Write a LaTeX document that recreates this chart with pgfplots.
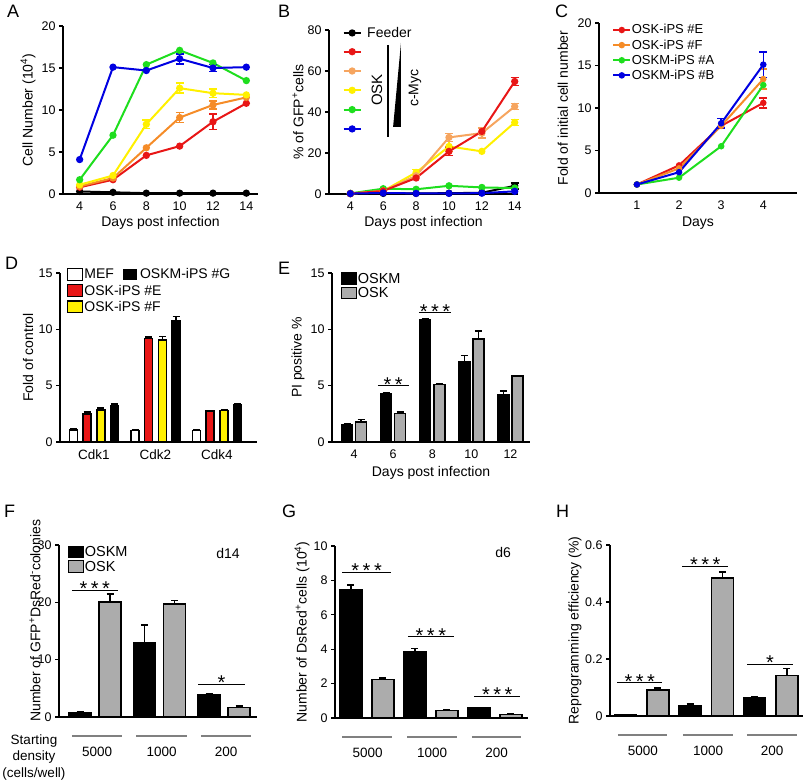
\documentclass[border=0pt]{standalone}
\usepackage{pgfplots}
\pgfplotsset{compat=1.18}
\usepackage{fontspec}
\setmainfont{Liberation Sans}
\definecolor{cred}{RGB}{232,22,22}
\definecolor{corA}{RGB}{245,140,40}
\definecolor{corB}{RGB}{246,165,95}
\definecolor{cyel}{RGB}{255,240,0}
\definecolor{cgrn}{RGB}{30,222,30}
\definecolor{cblu}{RGB}{0,0,225}
\definecolor{cgry}{RGB}{172,172,172}
\definecolor{cline}{RGB}{128,128,128}
\pgfplotsset{
 base/.style={scale only axis, anchor=south west, clip=false,
   axis x line*=bottom, axis y line*=left,
   axis line style={line width=1.5pt,-},
   every tick/.style={line width=1.3pt, black},
   tick align=outside, major tick length=4pt,
   ytick pos=left, xtick pos=bottom,
   x tick style={draw=none},
   /pgf/number format/assume math mode=true,
   tick label style={font=\fontsize{12.5}{12.5}\selectfont},
   label style={font=\fontsize{14}{14}\selectfont},
   xlabel style={anchor=center}, ylabel style={anchor=center},
   legend cell align=left, ymin=0,
 },
 lin/.style={line width=2pt, mark=*, mark size=2.6pt, mark options={solid}},
 eb/.style={forget plot, mark=none, draw=none, error bars/y dir=both, error bars/y explicit,
   error bars/error mark options={rotate=90, mark size=4pt, line width=1.6pt, draw=#1, solid},
   error bars/error bar style={line width=1.6pt, draw=#1, solid}},
 bar/.style={ybar, bar width=#1, bar shift=0pt, draw=black, line width=1.5pt, forget plot,
   error bars/y dir=plus, error bars/y explicit,
   error bars/error mark options={rotate=90, mark size=3.5pt, line width=1.6pt, draw=black},
   error bars/error bar style={line width=1.6pt, draw=black}},
 barleg/.style={legend image code/.code={\draw[##1, line width=1.2pt] (0pt,-5.5pt) rectangle (15pt,6pt);}},
}
\newcommand{\threestar}{*\hspace{3.5pt}*\hspace{3.5pt}*}
\tikzset{stars/.style={anchor=base, font=\fontsize{20}{20}\selectfont, yshift=-5.5pt},
         sig/.style={line width=1.2pt},
         letter/.style={anchor=north west, inner sep=0pt, font=\fontsize{18}{18}\selectfont}}
\begin{document}
\begin{tikzpicture}
\useasboundingbox (0pt,0pt) rectangle (805pt,-783pt);
% ---------------- A
\node[letter] at (7pt,-5pt) {A};
\begin{axis}[base, at={(63pt,-194pt)}, width=195pt, height=168pt,
  xmin=3, xmax=14.7, ymax=20, xtick={4,6,8,10,12,14}, ytick={0,5,10,15,20},
  xlabel={Days post infection}, ylabel={Cell Number (10\textsuperscript{4})},
  xlabel style={at={(axis description cs:0.5,-0.173)}},
  ylabel style={at={(axis description cs:-0.179,0.5)}}]
\addplot[lin, black] coordinates {(4,0.3)(6,0.2)(8,0.1)(10,0.1)(12,0.1)(14,0.1)};
\addplot[lin, cred] coordinates {(4,0.8)(6,1.7)(8,4.6)(10,5.7)(12,8.6)(14,10.8)};
\addplot[eb=cred] coordinates {(12,8.6) +- (0,0.9)};
\addplot[lin, corA] coordinates {(4,0.9)(6,1.9)(8,5.5)(10,9.1)(12,10.6)(14,11.5)};
\addplot[eb=corA] coordinates {(10,9.1) +- (0,0.6) (12,10.6) +- (0,0.5)};
\addplot[lin, cyel] coordinates {(4,1.1)(6,2.2)(8,8.3)(10,12.6)(12,12.0)(14,11.8)};
\addplot[eb=cyel] coordinates {(8,8.3) +- (0,0.5) (10,12.6) +- (0,0.6) (12,12.0) +- (0,0.5)};
\addplot[lin, cgrn] coordinates {(4,1.7)(6,7.0)(8,15.4)(10,17.1)(12,15.6)(14,13.5)};
\addplot[lin, cblu] coordinates {(4,4.1)(6,15.1)(8,14.7)(10,16.1)(12,15.0)(14,15.1)};
\addplot[eb=cblu] coordinates {(10,16.1) +- (0,0.6) (12,15.0) +- (0,0.4)};
\end{axis}
% ---------------- B
\node[letter] at (278pt,-5pt) {B};
\begin{axis}[base, at={(329pt,-194pt)}, width=189pt, height=164pt,
  xmin=2.7, xmax=14.2, ymax=80, xtick={4,6,8,10,12,14}, ytick={0,20,40,60,80},
  xlabel={Days post infection}, ylabel={\% of GFP\textsuperscript{+}cells},
  xlabel style={at={(axis description cs:0.5,-0.177)}},
  ylabel style={at={(axis description cs:-0.164,0.5)}},
  legend style={draw=none, fill=none, inner sep=0pt, font=\fontsize{14}{16}\selectfont,
    nodes={inner sep=1.5pt}, row sep=3.6pt, /tikz/every odd column/.append style={column sep=4pt},
    at={(axis description cs:0.071,1.028)}, anchor=north west}]
\addlegendimage{lin, black}\addlegendentry{Feeder}
\addlegendimage{lin, cred}\addlegendentry{\strut}
\addlegendimage{lin, corB}\addlegendentry{\strut}
\addlegendimage{lin, cyel}\addlegendentry{\strut}
\addlegendimage{lin, cgrn}\addlegendentry{\strut}
\addlegendimage{lin, cblu}\addlegendentry{\strut}
\addplot[lin, black, forget plot] coordinates {(4,0.2)(6,0.3)(8,0.3)(10,0.4)(12,0.6)(14,4.0)};
\addplot[eb=black] coordinates {(14,4.0) +- (0,1.5)};
\addplot[lin, cgrn, forget plot] coordinates {(4,0.3)(6,2.6)(8,2.3)(10,4.0)(12,3.2)(14,2.9)};
\addplot[lin, cyel, forget plot] coordinates {(4,0.2)(6,1.5)(8,10.5)(10,23.2)(12,20.8)(14,34.9)};
\addplot[eb=cyel] coordinates {(8,10.5) +- (0,1.5) (10,23.2) +- (0,2.5) (14,34.9) +- (0,1.5)};
\addplot[lin, corB, forget plot] coordinates {(4,0.2)(6,1.5)(8,8.9)(10,27.6)(12,29.7)(14,42.7)};
\addplot[eb=corB] coordinates {(10,27.6) +- (0,2) (12,29.7) +- (0,2.5) (14,42.7) +- (0,1.5)};
\addplot[lin, cred, forget plot] coordinates {(4,0.2)(6,1.5)(8,7.8)(10,20.8)(12,30.5)(14,54.9)};
\addplot[eb=cred] coordinates {(10,20.8) +- (0,2) (14,54.9) +- (0,2)};
\addplot[lin, cblu, forget plot] coordinates {(4,0.2)(6,0.5)(8,0.3)(10,0.3)(12,0.4)(14,1.3)};
\draw[line width=1.6pt] (axis cs:6.29,72.7) -- (axis cs:6.29,27.8);
\fill (axis cs:7.08,73.7) -- (axis cs:6.6,32.7) -- (axis cs:7.08,32.7) -- cycle;
\node[rotate=90, font=\fontsize{15}{15}\selectfont] at (axis cs:5.62,50.7) {OSK};
\node[rotate=90, font=\fontsize{14}{14}\selectfont] at (axis cs:7.93,51.7) {c-Myc};
\end{axis}
% ---------------- C
\node[letter] at (555pt,-5pt) {C};
\begin{axis}[base, at={(599pt,-193pt)}, width=198pt, height=170pt,
  xmin=0.1, xmax=4.8, ymax=20, xtick={1,2,3,4}, ytick={0,5,10,15,20},
  xlabel={Days}, ylabel={Fold of initial cell number},
  xlabel style={at={(axis description cs:0.5,-0.176)}},
  ylabel style={at={(axis description cs:-0.182,0.5)}},
  legend style={draw=none, fill=none, inner sep=0pt, font=\fontsize{13}{13.7}\selectfont,
    nodes={inner sep=0.5pt}, row sep=3.2pt, at={(axis description cs:0.066,0.995)}, anchor=north west}]
\addlegendimage{lin, cred, mark size=2.2pt}\addlegendentry{OSK-iPS \#E}
\addlegendimage{lin, corA, mark size=2.2pt}\addlegendentry{OSK-iPS \#F}
\addlegendimage{lin, cgrn, mark size=2.2pt}\addlegendentry{OSKM-iPS \#A}
\addlegendimage{lin, cblu, mark size=2.2pt}\addlegendentry{OSKM-iPS \#B}
\addplot[lin, cred, mark size=2.2pt, forget plot] coordinates {(1,1.0)(2,3.25)(3,7.9)(4,10.6)};
\addplot[eb=cred] coordinates {(4,10.6) +- (0,0.6)};
\addplot[lin, corA, mark size=2.2pt, forget plot] coordinates {(1,1.0)(2,2.9)(3,7.9)(4,13.4)};
\addplot[eb=corA] coordinates {(4,13.4) +- (0,1.2)};
\addplot[lin, cgrn, mark size=2.2pt, forget plot] coordinates {(1,1.0)(2,1.8)(3,5.5)(4,12.7)};
\addplot[lin, cblu, mark size=2.2pt, forget plot] coordinates {(1,1.0)(2,2.45)(3,8.2)(4,15.1)};
\addplot[eb=cblu] coordinates {(3,8.2) +- (0,0.55) (4,15.1) +- (0,1.5)};
\end{axis}
% ---------------- D
\node[letter] at (5pt,-257pt) {D};
\begin{axis}[base, at={(60pt,-442pt)}, width=197pt, height=169pt,
  xmin=0.45, xmax=3.65, ymax=15, xtick={1,2,3}, xticklabels={Cdk1,Cdk2,Cdk4}, ytick={0,5,10,15},
  xticklabel style={font=\fontsize{13.5}{14}\selectfont},
  ylabel={Fold of control},
  ylabel style={at={(axis description cs:-0.162,0.5)}},
  legend style={draw=none, fill=none, inner sep=0pt, font=\fontsize{14}{16}\selectfont,
    nodes={inner sep=1pt}, row sep=2.5pt,
    at={(axis description cs:0.036,1.032)}, anchor=north west}]
\addlegendimage{barleg, fill=white}\addlegendentry{MEF\hspace{9pt}\rule[-1.5pt]{14pt}{11.5pt}\hspace{3pt}OSKM-iPS \#G}
\addlegendimage{barleg, fill=cred}\addlegendentry{OSK-iPS \#E}
\addlegendimage{barleg, fill=cyel}\addlegendentry{OSK-iPS \#F}
\addplot[bar=8pt, fill=white] coordinates {(0.67,1.05) +- (0,0.1) (1.67,1.0) +- (0,0.05) (2.67,1.0) +- (0,0.05)};
\addplot[bar=8pt, fill=cred] coordinates {(0.89,2.5) +- (0,0.15) (1.89,9.2) +- (0,0.1) (2.89,2.75) +- (0,0.05)};
\addplot[bar=8pt, fill=cyel] coordinates {(1.115,2.85) +- (0,0.15) (2.115,9.05) +- (0,0.3) (3.115,2.8) +- (0,0.05)};
\addplot[bar=8pt, fill=black] coordinates {(1.335,3.2) +- (0,0.15) (2.335,10.75) +- (0,0.4) (3.335,3.3) +- (0,0.05)};
\end{axis}
% ---------------- E
\node[letter] at (278pt,-262pt) {E};
\begin{axis}[base, at={(332pt,-442pt)}, width=198pt, height=169pt,
  xmin=2.87, xmax=13.0, ymax=15, xtick={4,6,8,10,12}, ytick={0,5,10,15},
  xlabel={Days post infection}, ylabel={PI positive \%},
  xlabel style={at={(axis description cs:0.5,-0.183)}},
  ylabel style={at={(axis description cs:-0.172,0.5)}},
  legend style={draw=none, fill=none, inner sep=0pt, font=\fontsize{14.5}{15.5}\selectfont,
    nodes={inner sep=0.5pt}, row sep=1.5pt, at={(axis description cs:0.045,1.005)}, anchor=north west}]
\addlegendimage{barleg, fill=black}\addlegendentry{OSKM}
\addlegendimage{barleg, fill=cgry}\addlegendentry{OSK}
\addplot[bar=11pt, fill=black] coordinates {(3.64,1.55) +- (0,0.03) (5.64,4.27) +- (0,0.1) (7.64,10.85) +- (0,0.1) (9.64,7.08) +- (0,0.6) (11.64,4.2) +- (0,0.35)};
\addplot[bar=11pt, fill=cgry] coordinates {(4.36,1.78) +- (0,0.2) (6.36,2.52) +- (0,0.15) (8.36,5.1) +- (0,0.1) (10.36,9.16) +- (0,0.7) (12.36,5.84) +- (0,0.05)};
\draw[sig] (axis cs:5.22,5.0) -- (axis cs:6.81,5.0);
\node[stars] at (axis cs:6.0,5.0) {*\hspace{3.5pt}*};
\draw[sig] (axis cs:7.32,11.47) -- (axis cs:8.96,11.47);
\node[stars] at (axis cs:8.14,11.47) {\threestar};
\end{axis}
% ---------------- F
\node[letter] at (4pt,-505pt) {F};
\begin{axis}[base, at={(59pt,-717pt)}, width=198pt, height=172pt,
  xmin=0.44, xmax=3.51, ymax=30, xtick={1.03,2.03,3.03}, xticklabels={5000,1000,200}, ytick={0,10,20,30},
  xticklabel style={yshift=-23pt, font=\fontsize{13.5}{14}\selectfont},
  ylabel={Number of GFP\textsuperscript{+}DsRed\textsuperscript{-}colonies},
  ylabel style={at={(axis description cs:-0.121,0.56)}},
  legend style={draw=none, fill=none, inner sep=0pt, font=\fontsize{14.5}{15.5}\selectfont,
    nodes={inner sep=0.5pt}, row sep=1.5pt, at={(axis description cs:0.045,0.997)}, anchor=north west}]
\addlegendimage{barleg, fill=black}\addlegendentry{OSKM}
\addlegendimage{barleg, fill=cgry}\addlegendentry{OSK}
\addplot[bar=22pt, fill=black] coordinates {(0.767,0.75) +- (0,0.1) (1.767,12.9) +- (0,3.2) (2.767,3.8) +- (0,0.3)};
\addplot[bar=22pt, fill=cgry] coordinates {(1.233,20.1) +- (0,1.4) (2.233,19.7) +- (0,0.6) (3.233,1.7) +- (0,0.2)};
\draw[sig] (axis cs:0.64,22.1) -- (axis cs:1.35,22.1);
\node[stars] at (axis cs:0.995,22.1) {\threestar};
\draw[sig] (axis cs:2.6,5.7) -- (axis cs:3.32,5.7);
\node[stars] at (axis cs:2.96,5.7) {*};
\node[font=\fontsize{14}{14}\selectfont] at (axis cs:3.06,28.6) {d14};
\draw[cline, line width=1.2pt] ([yshift=-19pt]axis cs:0.64,0) -- ([yshift=-19pt]axis cs:1.42,0);
\draw[cline, line width=1.2pt] ([yshift=-19pt]axis cs:1.64,0) -- ([yshift=-19pt]axis cs:2.42,0);
\draw[cline, line width=1.2pt] ([yshift=-19pt]axis cs:2.64,0) -- ([yshift=-19pt]axis cs:3.42,0);
\end{axis}
\node[align=center, font=\fontsize{13.5}{16.5}\selectfont] at (34pt,-757pt) {Starting\\density\\(cells/well)};
% ---------------- G
\node[letter] at (282pt,-505pt) {G};
\begin{axis}[base, at={(335pt,-718pt)}, width=193pt, height=172pt,
  xmin=0.5, xmax=3.52, ymax=10, xtick={1.01,2.02,3.03}, xticklabels={5000,1000,200}, ytick={0,2,4,6,8,10},
  xticklabel style={yshift=-23pt, font=\fontsize{13.5}{14}\selectfont},
  ylabel={Number of DsRed\textsuperscript{+}cells (10\textsuperscript{4})},
  ylabel style={at={(axis description cs:-0.171,0.5)}}]
\addplot[bar=22pt, fill=black] coordinates {(0.75,7.45) +- (0,0.3) (1.75,3.85) +- (0,0.18) (2.75,0.6) +- (0,0.02)};
\addplot[bar=22pt, fill=cgry] coordinates {(1.25,2.25) +- (0,0.06) (2.25,0.43) +- (0,0.02) (3.25,0.21) +- (0,0.06)};
\draw[sig] (axis cs:0.61,8.47) -- (axis cs:1.38,8.47);
\node[stars] at (axis cs:0.995,8.47) {\threestar};
\draw[sig] (axis cs:1.64,4.72) -- (axis cs:2.36,4.72);
\node[stars] at (axis cs:2.0,4.72) {\threestar};
\draw[sig] (axis cs:2.68,1.26) -- (axis cs:3.4,1.26);
\node[stars] at (axis cs:3.04,1.26) {\threestar};
\node[font=\fontsize{14}{14}\selectfont] at (axis cs:3.13,9.65) {d6};
\draw[cline, line width=1.2pt] ([yshift=-19pt]axis cs:0.61,0) -- ([yshift=-19pt]axis cs:1.39,0);
\draw[cline, line width=1.2pt] ([yshift=-19pt]axis cs:1.63,0) -- ([yshift=-19pt]axis cs:2.41,0);
\draw[cline, line width=1.2pt] ([yshift=-19pt]axis cs:2.64,0) -- ([yshift=-19pt]axis cs:3.41,0);
\end{axis}
% ---------------- H
\node[letter] at (556pt,-505pt) {H};
\begin{axis}[base, at={(610pt,-716pt)}, width=193pt, height=171pt,
  xmin=0.51, xmax=3.5, ymax=0.6, xtick={1.02,2.03,3.02}, xticklabels={5000,1000,200}, ytick={0,0.2,0.4,0.6},
  xticklabel style={yshift=-23pt, font=\fontsize{13.5}{14}\selectfont},
  ylabel={Reprogramming efficiency (\%)},
  ylabel style={at={(axis description cs:-0.181,0.5)}}]
\addplot[bar=22pt, fill=black] coordinates {(0.75,0.004) +- (0,0.0005) (1.75,0.037) +- (0,0.006) (2.75,0.064) +- (0,0.004)};
\addplot[bar=22pt, fill=cgry] coordinates {(1.25,0.092) +- (0,0.006) (2.25,0.485) +- (0,0.02) (3.25,0.142) +- (0,0.025)};
\draw[sig] (axis cs:0.62,0.117) -- (axis cs:1.32,0.117);
\node[stars] at (axis cs:0.97,0.117) {\threestar};
\draw[sig] (axis cs:1.63,0.526) -- (axis cs:2.34,0.526);
\node[stars] at (axis cs:1.985,0.526) {\threestar};
\draw[sig] (axis cs:2.64,0.182) -- (axis cs:3.34,0.182);
\node[stars] at (axis cs:2.99,0.182) {*};
\draw[cline, line width=1.2pt] ([yshift=-19pt]axis cs:0.63,0) -- ([yshift=-19pt]axis cs:1.40,0);
\draw[cline, line width=1.2pt] ([yshift=-19pt]axis cs:1.64,0) -- ([yshift=-19pt]axis cs:2.42,0);
\draw[cline, line width=1.2pt] ([yshift=-19pt]axis cs:2.63,0) -- ([yshift=-19pt]axis cs:3.41,0);
\end{axis}
\end{tikzpicture}
\end{document}
